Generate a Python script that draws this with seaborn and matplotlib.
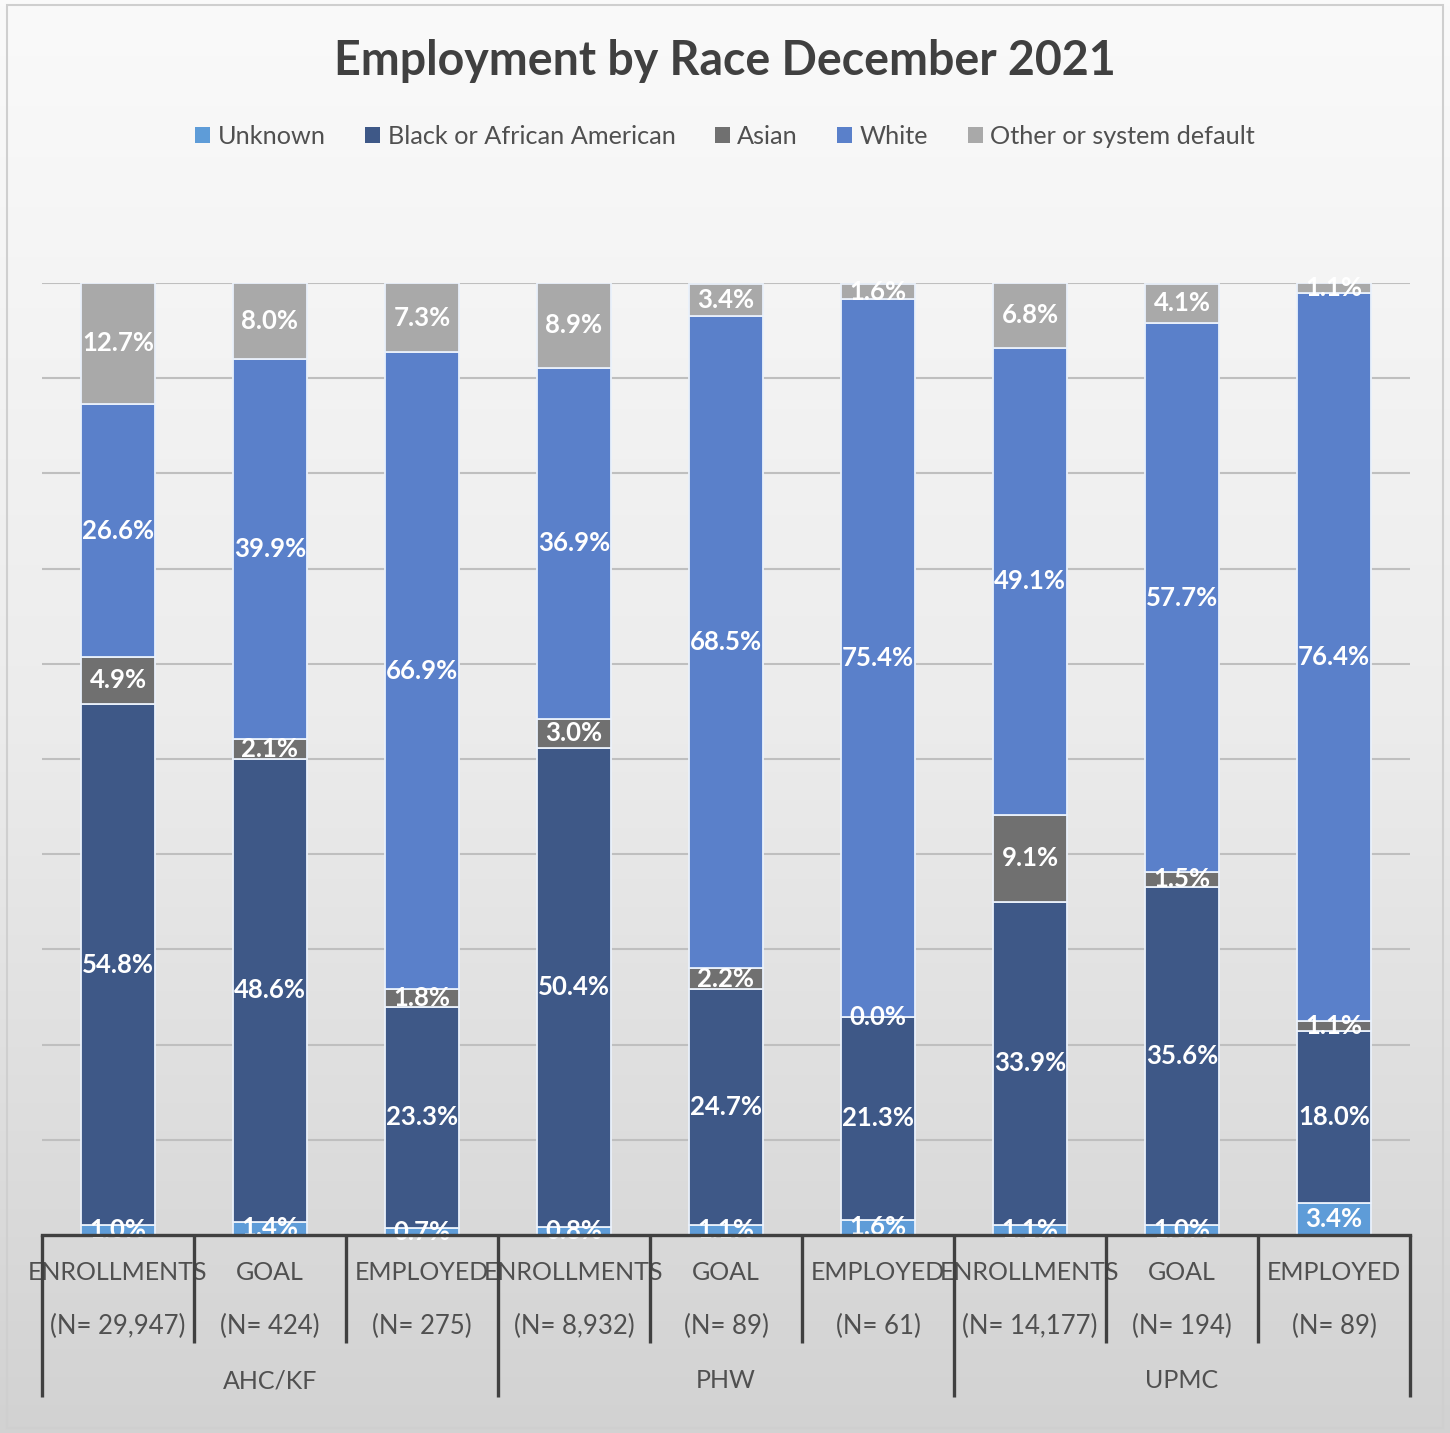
import numpy as np
import pandas as pd
import matplotlib
matplotlib.use("Agg")
import matplotlib.pyplot as plt
import seaborn as sns
from matplotlib.patches import Patch, Rectangle
from matplotlib.colors import LinearSegmentedColormap

# ---------------- data ----------------
groups = ["AHC/KF", "PHW", "UPMC"]
stages = ["ENROLLMENTS", "GOAL", "EMPLOYED"]
n_labels = ["(N= 29,947)", "(N= 424)", "(N= 275)",
            "(N= 8,932)", "(N= 89)", "(N= 61)",
            "(N= 14,177)", "(N= 194)", "(N= 89)"]
series = ["Unknown", "Black or African American", "Asian", "White", "Other or system default"]
unknown = [1.0, 1.4, 0.7, 0.8, 1.1, 1.6, 1.1, 1.0, 3.4]
black = [54.8, 48.6, 23.3, 50.4, 24.7, 21.3, 33.9, 35.6, 18.0]
asian = [4.9, 2.1, 1.8, 3.0, 2.2, 0.0, 9.1, 1.5, 1.1]
white = [26.6, 39.9, 66.9, 36.9, 68.5, 75.4, 49.1, 57.7, 76.4]
other = [12.7, 8.0, 7.3, 8.9, 3.4, 1.6, 6.8, 4.1, 1.1]
colors = ["#5E9CD8", "#3E5887", "#707070", "#5A80CA", "#A9A9A9"]

values = [unknown, black, asian, white, other]
bar_ids = [f"{g}|{s}" for g in groups for s in stages]
df = pd.DataFrame({"bar": bar_ids})
for name, vals in zip(series, values):
    df[name] = vals

# ---------------- figure ----------------
W, H = 1450, 1433
fig = plt.figure(figsize=(W / 100, H / 100), dpi=100)
font = "Lato"
plt.rcParams["font.family"] = [font, "DejaVu Sans"]

# background gradient
bg = fig.add_axes([0, 0, 1, 1], zorder=-10)
grad = np.linspace(0, 1, 256).reshape(-1, 1)
cmap = LinearSegmentedColormap.from_list("bg", ["#FAFAFA", "#ECECEC", "#D2D2D2"])
bg.imshow(grad, aspect="auto", cmap=cmap, extent=[0, 1, 0, 1], origin="upper")
bg.add_patch(Rectangle((7 / W, 5 / H), 1436 / W, 1423 / H, fill=False,
                       edgecolor="#CFCFCF", lw=1.5, transform=bg.transAxes))
bg.set_xlim(0, 1); bg.set_ylim(0, 1)
bg.axis("off")

left, right, top, bottom = 42, 1410, 283, 1235
ax = fig.add_axes([left / W, 1 - bottom / H, (right - left) / W, (bottom - top) / H])
ax.set_facecolor("none")

cum = np.zeros(len(df))
containers = []
for name, col in zip(series, colors):
    sns.barplot(data=df, x="bar", y=name, order=bar_ids, color=col, bottom=cum,
                width=0.49, edgecolor="#EAF1FB", linewidth=1.3, ax=ax,
                saturation=1, zorder=3)
    containers.append(ax.containers[-1])
    cum = cum + df[name].to_numpy()

for cont, vals in zip(containers, values):
    ax.bar_label(cont, labels=[f"{v:.1f}%" for v in vals], label_type="center",
                 color="white", fontsize=18.5, fontweight="bold", zorder=5)

ax.set_xlim(-0.5, 8.5)
ax.set_ylim(0, 100)
ax.set_yticks(np.arange(0, 101, 10))
ax.yaxis.grid(True, color="#BFBFBF", lw=1.5, zorder=0)
ax.set_axisbelow(True)
ax.tick_params(left=False, labelleft=False, bottom=False, labelbottom=False)
for sp in ax.spines.values():
    sp.set_visible(False)
ax.set_xlabel(""); ax.set_ylabel("")

# ---------------- category table ----------------
def ypix(p):
    return -(p - bottom) / (bottom - top)

tr = ax.transAxes
lc = "#404040"
ax.plot([0, 1], [0, 0], transform=tr, color=lc, lw=2.4, clip_on=False, zorder=6)
for i in range(10):
    xa = i / 9
    ybot = ypix(1397) if i % 3 == 0 else ypix(1343)
    ax.plot([xa, xa], [0, ybot], transform=tr, color=lc, lw=2.4, clip_on=False,
            solid_capstyle="butt", zorder=6)

tc = "#505050"
for i in range(9):
    xa = (i + 0.5) / 9
    ax.text(xa, ypix(1272), stages[i % 3], transform=tr, ha="center", va="center",
            fontsize=18, color=tc)
    ax.text(xa, ypix(1326), n_labels[i], transform=tr, ha="center", va="center",
            fontsize=18.5, color=tc)
for g, name in enumerate(groups):
    xa = (g * 3 + 1.5) / 9
    ax.text(xa, ypix(1381), name, transform=tr, ha="center", va="center",
            fontsize=18, color=tc)

# ---------------- title & legend ----------------
fig.text(0.5, 1 - 61 / H, "Employment by Race December 2021", ha="center", va="center",
         fontsize=33.5, fontweight="bold", color="#404040")

handles = [Patch(facecolor=c, edgecolor="none") for c in colors]
leg = fig.legend(handles, series, loc="center", bbox_to_anchor=(0.5, 1 - 136 / H),
                 ncol=5, frameon=True, fontsize=18.2, handlelength=0.6, handleheight=0.6,
                 handletextpad=0.3, columnspacing=1.55, labelcolor="#505050")
leg.get_frame().set_facecolor("#F7F7F7")
leg.get_frame().set_edgecolor("none")
leg.get_frame().set_alpha(0.8)

fig.savefig("out.png", dpi=100)
